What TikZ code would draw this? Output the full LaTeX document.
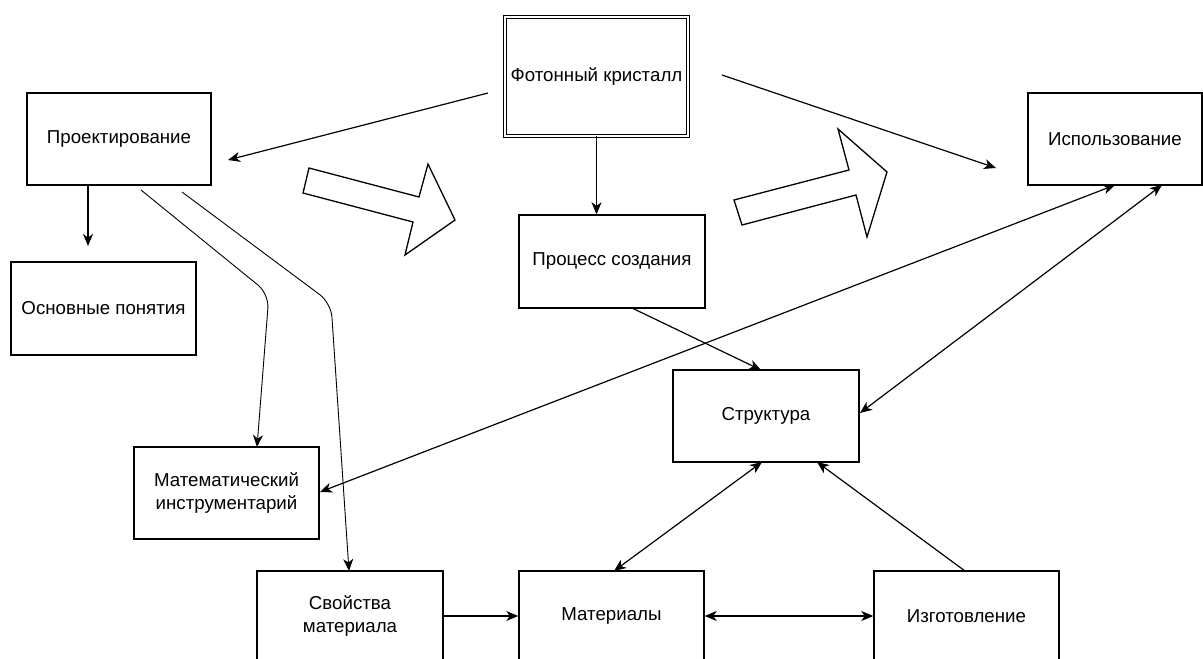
\documentclass[tikz,border=0pt]{standalone}
\usepackage{fontspec}
\setmainfont{Liberation Sans}
\usetikzlibrary{arrows.meta}
\tikzset{
  box/.style={draw, line width=1.4pt, minimum width=186pt, minimum height=92pt, align=center, inner sep=0pt, font=\fontsize{18.7}{23}\selectfont},
  tipa/.tip={Stealth[length=12pt,width=10pt,inset=3.5pt]},
  conn/.style={line width=1.2pt, -tipa},
  dconn/.style={line width=1.2pt, tipa-tipa},
  tconn/.style={line width=0.9pt, -tipa, rounded corners=14pt},
  blockarrow/.style={draw, line width=1.3pt, line join=miter, fill=white}
}
\begin{document}
\begin{tikzpicture}[x=1pt,y=-1pt]
\useasboundingbox (0,0) rectangle (1203,659);
\clip (0,0) rectangle (1203,659);
\fill[white] (0,0) rectangle (1203,659);

% nodes
\node[box, double, double distance=2pt, line width=1.2pt, minimum width=182.6pt, minimum height=118.6pt] (fk) at (596.5,76.5) {Фотонный кристалл};
\node[box, minimum width=184pt] (pr) at (119,139) {Проектирование};
\node[box, minimum width=185pt, minimum height=93pt] (op) at (103.5,308.5) {Основные понятия};
\node[box, minimum width=174pt] (isp) at (1115,139) {Использование};
\node[box, minimum height=93pt] (pc) at (612,261.5) {Процесс создания};
\node[box] (st) at (766,416) {Структура};
\node[box, minimum width=185pt] (mi) at (226.5,493) {Математический\\инструментарий};
\node[box, minimum height=90pt] (sv) at (350,616) {Свойства\\материала};
\node[box, minimum width=185pt, minimum height=90pt] (ma) at (611.5,616) {Материалы};
\node[box, minimum width=185pt, minimum height=90pt] (iz) at (966.5,616) {Изготовление};

% block arrows
\draw[blockarrow] (309,168) -- (419,197) -- (428,164) -- (455,220) -- (405,255) -- (413,222) -- (303,193) -- cycle;
\draw[blockarrow] (734,200) -- (849,170) -- (838,129) -- (887,172) -- (867,237) -- (856,195) -- (742,225) -- cycle;

% connector end points
\coordinate (a1s) at (488,93);  \coordinate (a1e) at (228,160);
\coordinate (a2s) at (722,75);  \coordinate (a2e) at (996,168);
\coordinate (a4s) at (88,185);  \coordinate (a4e) at (88,246);
\coordinate (a5s) at (141,190); \coordinate (a5m) at (269,294); \coordinate (a5e) at (257,447);
\coordinate (a6s) at (182,192); \coordinate (a6m) at (331,303); \coordinate (a6e) at (349,571);
\coordinate (a7s) at (632,308); \coordinate (a7e) at (761,370);
\coordinate (a8s) at (1115,185); \coordinate (a8e) at (320,492);
\coordinate (a9s) at (1162,185); \coordinate (a9e) at (860,413);
\coordinate (a10s) at (762,462); \coordinate (a10e) at (614,571);
\coordinate (a11s) at (965,571); \coordinate (a11e) at (817,462);

% connectors
\draw[conn] (a1s) -- (a1e);
\draw[conn] (a2s) -- (a2e);
\draw[conn] (fk.south) -- (fk.south |- pc.north);
\draw[conn] (a4s) -- (a4e);
\draw[tconn] (a5s) -- (a5m) -- (a5e);
\draw[tconn] (a6s) -- (a6m) -- (a6e);
\draw[conn] (a7s) -- (a7e);
\draw[dconn] (a8s) -- (a8e);
\draw[dconn] (a9s) -- (a9e);
\draw[dconn] (a10s) -- (a10e);
\draw[conn] (a11s) -- (a11e);
\draw[conn] (sv.east |- ma.west) -- (ma.west);
\draw[dconn] (ma.east) -- (iz.west);
\end{tikzpicture}
\end{document}
